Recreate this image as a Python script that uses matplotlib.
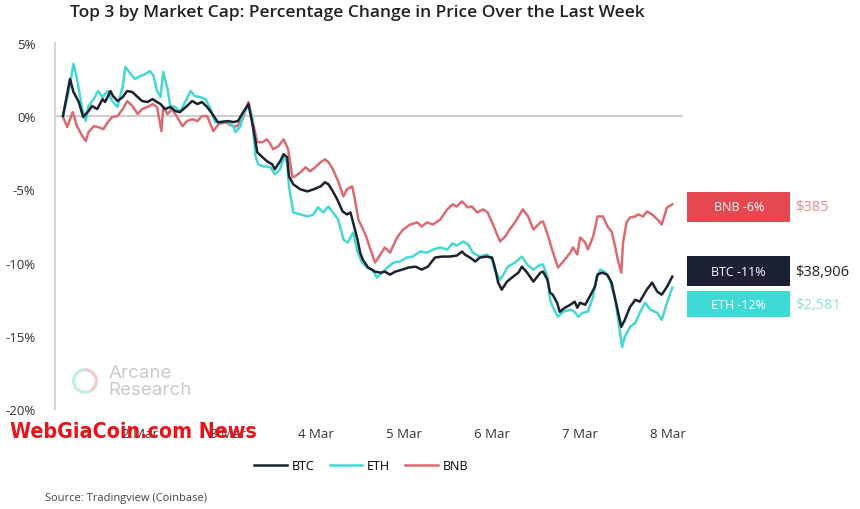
import matplotlib
matplotlib.use("Agg")
import matplotlib.pyplot as plt
from matplotlib.patches import Rectangle, Wedge

plt.rcParams['font.family'] = ['Open Sans', 'DejaVu Sans']

# (day of March, % change since start)
btc_points = [
    (1.12, 0.0), (1.20, 2.53), (1.24, 1.64), (1.30, 0.96), (1.35, -0.07), (1.41, 0.34),
    (1.45, 0.69), (1.51, 0.48), (1.57, 1.16), (1.60, 0.96), (1.66, 1.71), (1.69, 1.37),
    (1.74, 1.03), (1.80, 1.30), (1.85, 1.71), (1.91, 1.64), (1.97, 1.30), (2.02, 1.03),
    (2.08, 0.96), (2.14, 1.16), (2.17, 1.03), (2.23, 0.82), (2.28, 0.48), (2.34, 0.62),
    (2.40, 0.34), (2.45, 0.27), (2.53, 0.69), (2.59, 1.03), (2.65, 0.82), (2.70, 0.96),
    (2.76, 0.62), (2.82, 0.14), (2.88, -0.41), (2.91, -0.41), (3.00, -0.34), (3.06, -0.41),
    (3.11, -0.34), (3.17, 0.27), (3.23, 0.82), (3.28, -0.69), (3.33, -2.47), (3.39, -2.81),
    (3.44, -3.08), (3.50, -3.29), (3.53, -3.63), (3.59, -3.08), (3.63, -2.60), (3.67, -2.81),
    (3.69, -4.11), (3.74, -4.66), (3.82, -5.00), (3.90, -5.14), (3.97, -5.00), (4.05, -4.80),
    (4.10, -4.52), (4.14, -4.66), (4.19, -5.14), (4.24, -5.69), (4.30, -6.51), (4.35, -6.71),
    (4.39, -6.58), (4.42, -7.26), (4.47, -8.43), (4.50, -9.32), (4.53, -9.80), (4.59, -10.34),
    (4.67, -10.62), (4.73, -10.69), (4.78, -10.62), (4.84, -10.82), (4.90, -10.62), (4.98, -10.48),
    (5.05, -10.34), (5.13, -10.28), (5.20, -10.48), (5.27, -10.28), (5.35, -9.66), (5.43, -9.59),
    (5.52, -9.59), (5.60, -9.52), (5.66, -9.25), (5.69, -9.45), (5.75, -9.66), (5.81, -9.93),
    (5.86, -9.66), (5.94, -9.59), (6.00, -9.66), (6.03, -10.28), (6.07, -11.37), (6.11, -11.85),
    (6.17, -11.30), (6.24, -10.96), (6.30, -10.69), (6.34, -10.28), (6.40, -10.69), (6.47, -11.30),
    (6.55, -10.69), (6.58, -10.62), (6.63, -11.17), (6.66, -12.06), (6.69, -12.19), (6.74, -12.74),
    (6.77, -13.36), (6.83, -13.08), (6.89, -12.88), (6.94, -12.67), (6.97, -13.08), (7.00, -12.74),
    (7.06, -12.88), (7.11, -12.33), (7.17, -11.65), (7.20, -10.82), (7.25, -10.69), (7.31, -10.82),
    (7.36, -11.37), (7.42, -13.02), (7.47, -14.39), (7.51, -13.91), (7.57, -13.02), (7.63, -12.54),
    (7.68, -12.67), (7.76, -11.85), (7.82, -11.37), (7.88, -11.99), (7.93, -12.19), (7.99, -11.65),
    (8.05, -10.96),
]

eth_points = [
    (1.12, 0.0), (1.18, 1.51), (1.24, 3.56), (1.28, 2.53), (1.34, 0.48), (1.38, -0.34),
    (1.41, 0.69), (1.47, 1.16), (1.52, 1.71), (1.57, 1.30), (1.63, 1.71), (1.68, 1.03),
    (1.74, 0.62), (1.80, 2.06), (1.83, 3.36), (1.89, 2.88), (1.94, 2.53), (2.00, 2.74),
    (2.06, 2.88), (2.11, 3.08), (2.15, 2.74), (2.19, 1.71), (2.23, 1.30), (2.26, 3.01),
    (2.31, 1.85), (2.34, 0.69), (2.40, 0.62), (2.45, 0.27), (2.51, 0.96), (2.57, 1.71),
    (2.62, 1.37), (2.68, 1.30), (2.74, 1.16), (2.80, 0.48), (2.85, -0.41), (2.91, -0.41),
    (2.99, -0.34), (3.06, -0.69), (3.08, -1.10), (3.14, -0.69), (3.17, 0.14), (3.23, 0.69),
    (3.27, 0.0), (3.31, -2.74), (3.34, -3.29), (3.40, -3.43), (3.48, -3.49), (3.53, -3.97),
    (3.59, -3.63), (3.63, -2.81), (3.67, -3.15), (3.69, -4.80), (3.74, -6.58), (3.82, -6.71),
    (3.90, -6.85), (3.97, -6.71), (4.02, -6.23), (4.08, -6.58), (4.14, -6.17), (4.19, -6.58),
    (4.25, -7.06), (4.31, -8.43), (4.36, -8.63), (4.42, -7.95), (4.47, -9.25), (4.52, -10.00),
    (4.58, -10.34), (4.64, -10.48), (4.69, -11.03), (4.75, -10.69), (4.81, -10.34), (4.88, -10.00),
    (4.95, -9.93), (5.03, -9.66), (5.10, -9.59), (5.18, -9.25), (5.26, -9.32), (5.33, -9.11),
    (5.41, -8.97), (5.49, -9.11), (5.55, -8.70), (5.60, -8.84), (5.67, -8.56), (5.73, -8.77),
    (5.78, -9.32), (5.86, -9.59), (5.94, -9.45), (6.00, -9.80), (6.03, -10.48), (6.09, -11.17),
    (6.13, -10.82), (6.18, -10.28), (6.26, -10.00), (6.30, -9.80), (6.34, -9.59), (6.40, -10.14),
    (6.47, -10.48), (6.55, -10.14), (6.58, -10.14), (6.63, -10.96), (6.66, -12.54), (6.69, -13.02),
    (6.75, -13.70), (6.81, -13.36), (6.89, -13.22), (6.94, -13.36), (6.98, -13.70), (7.03, -13.43),
    (7.09, -13.36), (7.15, -12.33), (7.19, -10.96), (7.23, -10.48), (7.28, -10.62), (7.34, -11.17),
    (7.40, -12.54), (7.44, -14.11), (7.48, -15.76), (7.51, -15.07), (7.57, -14.39), (7.63, -14.11),
    (7.68, -13.43), (7.74, -12.74), (7.80, -13.22), (7.88, -13.43), (7.93, -13.91), (7.99, -12.74),
    (8.05, -11.71),
]

bnb_points = [
    (1.12, -0.07), (1.17, -0.75), (1.23, 0.27), (1.28, -0.69), (1.34, -1.37), (1.38, -1.71),
    (1.41, -1.10), (1.47, -0.69), (1.52, -0.75), (1.58, -0.89), (1.63, -0.41), (1.68, -0.07),
    (1.74, 0.0), (1.80, 0.48), (1.85, 1.03), (1.91, 0.69), (1.97, 0.14), (2.02, 0.48),
    (2.08, 0.62), (2.14, 0.82), (2.19, 0.62), (2.24, -1.03), (2.26, 0.62), (2.31, 0.14),
    (2.36, 0.48), (2.42, -0.07), (2.48, -0.69), (2.53, -0.34), (2.59, -0.21), (2.65, -0.34),
    (2.70, 0.0), (2.76, 0.0), (2.83, -1.03), (2.89, -0.55), (2.97, -0.41), (3.05, -0.69),
    (3.10, -0.69), (3.16, -0.21), (3.23, 0.96), (3.28, -0.41), (3.33, -1.78), (3.39, -1.78),
    (3.44, -1.58), (3.48, -1.92), (3.51, -2.26), (3.57, -2.06), (3.63, -1.58), (3.68, -2.26),
    (3.73, -4.18), (3.76, -4.11), (3.82, -3.84), (3.88, -3.49), (3.93, -3.77), (3.99, -3.49),
    (4.05, -3.15), (4.10, -2.95), (4.14, -3.15), (4.19, -3.63), (4.25, -4.45), (4.31, -5.48),
    (4.35, -5.00), (4.41, -4.80), (4.44, -5.69), (4.48, -7.06), (4.56, -8.08), (4.61, -8.97),
    (4.67, -10.00), (4.73, -9.45), (4.78, -8.97), (4.84, -9.32), (4.92, -8.29), (4.99, -7.74),
    (5.07, -7.40), (5.15, -7.26), (5.20, -7.54), (5.26, -7.26), (5.33, -7.40), (5.41, -7.06),
    (5.49, -6.37), (5.55, -6.03), (5.60, -6.17), (5.66, -5.82), (5.72, -6.23), (5.77, -6.17),
    (5.83, -6.58), (5.90, -6.37), (5.95, -6.58), (6.01, -7.40), (6.09, -8.56), (6.15, -8.22),
    (6.20, -7.74), (6.26, -7.26), (6.35, -6.37), (6.41, -6.85), (6.47, -7.74), (6.55, -7.26),
    (6.58, -7.19), (6.64, -8.22), (6.69, -9.25), (6.75, -10.34), (6.81, -9.93), (6.89, -9.32),
    (6.92, -8.97), (6.97, -9.45), (7.00, -8.29), (7.06, -8.63), (7.09, -9.11), (7.15, -8.22),
    (7.20, -6.85), (7.26, -6.85), (7.32, -7.60), (7.36, -7.88), (7.40, -8.91), (7.43, -9.80),
    (7.47, -10.69), (7.49, -8.63), (7.53, -7.26), (7.57, -6.92), (7.63, -6.85), (7.66, -6.71),
    (7.72, -6.85), (7.76, -6.51), (7.82, -6.71), (7.88, -7.06), (7.93, -7.40), (7.99, -6.23),
    (8.05, -6.03),
]

day_ticks = [2, 3, 4, 5, 6, 7, 8]
day_labels = ['2 Mar', '3 Mar', '4 Mar', '5 Mar', '6 Mar', '7 Mar', '8 Mar']
y_ticks = [5, 0, -5, -10, -15, -20]

labels = ['BNB -6%', 'BTC -11%', 'ETH -12%']
prices = ['$385', '$38,906', '$2,581']

c_btc = '#1c2230'
c_eth = '#45d8d2'
c_bnb = '#db6b73'

fig = plt.figure(figsize=(8.6, 5.1), dpi=100)
ax = fig.add_axes([0.064, 0.196, 0.73, 0.718])

bt, bv = zip(*btc_points)
et, ev = zip(*eth_points)
nt, nv = zip(*bnb_points)
l_bnb, = ax.plot(nt, nv, color=c_bnb, lw=1.8, label='BNB')
l_eth, = ax.plot(et, ev, color=c_eth, lw=1.8, label='ETH')
l_btc, = ax.plot(bt, bv, color=c_btc, lw=1.8, label='BTC')

ax.axhline(0, color='#cfcfcf', lw=1.5, zorder=0)
ax.set_xlim(1.03, 8.17)
ax.set_ylim(-20, 5)
ax.set_yticks(y_ticks)
ax.set_yticklabels([f'{v}%' for v in y_ticks])
ax.set_xticks(day_ticks)
ax.set_xticklabels(day_labels)
ax.tick_params(length=0, labelsize=9.5, colors='#333333')
ax.tick_params(axis='x', pad=13)
ax.tick_params(axis='y', pad=14)
for s in ['top', 'right', 'bottom']:
    ax.spines[s].set_visible(False)
ax.spines['left'].set_color('#d5d5d5')
ax.spines['left'].set_linewidth(1.5)

# end-of-line labels (boxes in figure coords)
box_y = [0.563, 0.437, 0.376]
box_h = [0.059, 0.059, 0.051]
box_colors = ['#e5484f', '#1b2034', '#3ddad6']
price_colors = ['#e08c90', '#222222', '#8fdcd8']
for lab, pr, y0, h, bc, pc in zip(labels, prices, box_y, box_h, box_colors, price_colors):
    fig.patches.append(Rectangle((0.799, y0), 0.120, h, transform=fig.transFigure,
                                 fc=bc, ec='none'))
    fig.text(0.859, y0 + h / 2, lab, ha='center', va='center', color='white', fontsize=9)
    fig.text(0.925, y0 + h / 2, pr, ha='left', va='center', color=pc, fontsize=10.5)

# Arcane Research logo
fig.patches.append(Wedge((0.85, 1.28), 0.13, 90, 300, width=0.035,
                         transform=fig.dpi_scale_trans, fc='#c6ece9', ec='none'))
fig.patches.append(Wedge((0.85, 1.28), 0.13, 300, 450, width=0.035,
                         transform=fig.dpi_scale_trans, fc='#eccfd0', ec='none'))
fig.text(0.126, 0.251, 'Arcane\nResearch', fontsize=13.5, color='#c9c9c9',
         va='center', ha='left', linespacing=0.95, family=['Inter', 'DejaVu Sans'])

fig.text(0.415, 0.975, 'Top 3 by Market Cap: Percentage Change in Price Over the Last Week',
         ha='center', va='center', fontsize=12.5, fontweight='semibold', color='#222222')

fig.legend(handles=[l_btc, l_eth, l_bnb], loc='center', bbox_to_anchor=(0.42, 0.085),
           ncol=3, frameon=False, fontsize=9, handlelength=2.6, columnspacing=1.2,
           handletextpad=0.4)

fig.text(0.052, 0.022, 'Source: Tradingview (Coinbase)', fontsize=8, color='#444444',
         ha='left', va='center')

# watermark (sits over the first x labels, as in the source image)
fig.text(0.012, 0.153, 'WebGiaCoin.com News', fontsize=15.3, fontweight='bold', color='#e8141c',
         family='DejaVu Sans', fontstretch='condensed', ha='left', va='center')

fig.savefig('out.png', dpi=100, facecolor='white')
